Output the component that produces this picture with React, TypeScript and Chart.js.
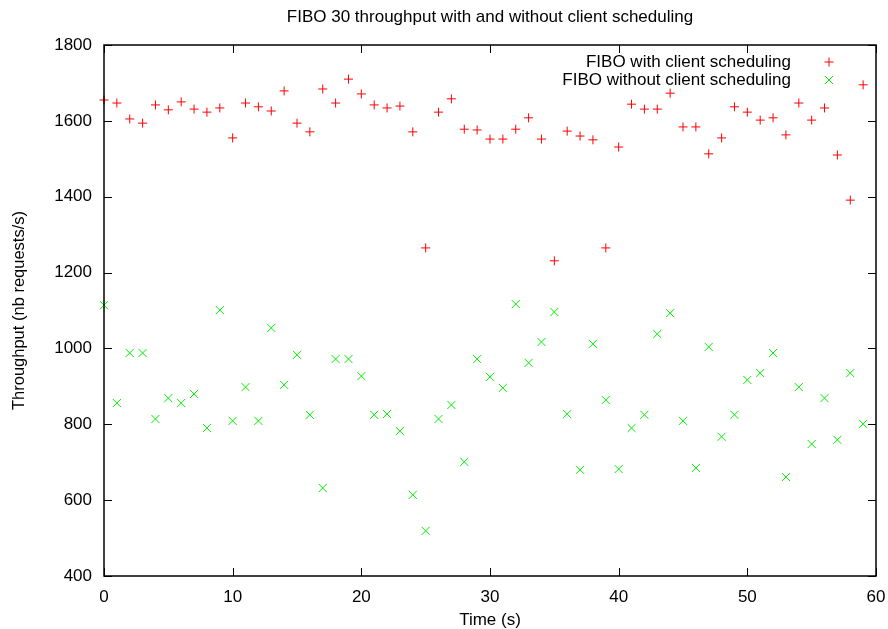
import React, { useEffect, useRef } from "react";
import { Chart, registerables } from "chart.js";

Chart.register(...registerables);

const TITLE = "FIBO 30 throughput with and without client scheduling";
const X_TITLE = "Time (s)";
const Y_TITLE = "Throughput (nb requests/s)";
const SERIES_NAMES = ["FIBO with client scheduling", "FIBO without client scheduling"];

const times = [
  0, 1, 2, 3, 4, 5, 6, 7, 8, 9, 10, 11, 12, 13, 14, 15, 16, 17, 18, 19,
  20, 21, 22, 23, 24, 25, 26, 27, 28, 29, 30, 31, 32, 33, 34, 35, 36, 37, 38, 39,
  40, 41, 42, 43, 44, 45, 46, 47, 48, 49, 50, 51, 52, 53, 54, 55, 56, 57, 58, 59,
];

const withScheduling = [
  1655, 1647, 1605, 1594, 1642, 1629, 1650, 1631, 1623, 1634,
  1555, 1647, 1637, 1626, 1679, 1594, 1571, 1684, 1647, 1710,
  1671, 1642, 1634, 1639, 1571, 1265, 1623, 1658, 1578, 1576,
  1552, 1552, 1578, 1608, 1552, 1231, 1573, 1560, 1550, 1265,
  1531, 1644, 1631, 1631, 1673, 1584, 1584, 1513, 1555, 1637,
  1623, 1602, 1608, 1563, 1647, 1602, 1634, 1510, 1391, 1695,
];

const withoutScheduling = [
  1114, 856, 988, 988, 814, 869, 856, 880, 790, 1101,
  809, 898, 809, 1054, 904, 983, 825, 632, 972, 972,
  927, 825, 827, 782, 614, 519, 814, 851, 701, 972,
  925, 896, 1117, 962, 1017, 1096, 827, 680, 1012, 864,
  682, 790, 825, 1038, 1093, 809, 685, 1004, 767, 825,
  917, 935, 988, 661, 898, 748, 869, 759, 935, 801,
];

const xTicks = [0, 10, 20, 30, 40, 50, 60];
const yTicks = [400, 600, 800, 1000, 1200, 1400, 1600, 1800];

const RED = "#ff0000";
const GREEN = "#00ee00";
const FONT = '"Liberation Sans", Arial, sans-serif';
const FS = 17;

const gnuplotFrame = {
  id: "gnuplotFrame",
  afterDraw(chart: any) {
    const ctx = chart.ctx as CanvasRenderingContext2D;
    const { left, right, top, bottom } = chart.chartArea;
    const xs = chart.scales.x;
    const ys = chart.scales.y;
    ctx.save();
    ctx.strokeStyle = "#000";
    ctx.lineWidth = 1;
    const tl = 8;
    ctx.beginPath();
    for (const v of xTicks) {
      const px = Math.round(xs.getPixelForValue(v)) + 0.5;
      ctx.moveTo(px, bottom);
      ctx.lineTo(px, bottom - tl);
      ctx.moveTo(px, top);
      ctx.lineTo(px, top + tl);
    }
    for (const v of yTicks) {
      const py = Math.round(ys.getPixelForValue(v)) + 0.5;
      ctx.moveTo(left, py);
      ctx.lineTo(left + tl, py);
      ctx.moveTo(right, py);
      ctx.lineTo(right - tl, py);
    }
    ctx.stroke();
    ctx.lineWidth = 1.5;
    ctx.strokeRect(left, top, right - left, bottom - top);

    ctx.fillStyle = "#000";
    ctx.font = `${FS}px ${FONT}`;
    ctx.textAlign = "center";
    ctx.textBaseline = "middle";
    ctx.fillText(TITLE, (left + right) / 2, 17);
    ctx.fillText(X_TITLE, (left + right) / 2, 620);
    ctx.save();
    ctx.translate(19, (top + bottom) / 2);
    ctx.rotate(-Math.PI / 2);
    ctx.font = `16.5px ${FONT}`;
    ctx.fillText(Y_TITLE, 0, 0);
    ctx.restore();

    ctx.textAlign = "right";
    const textRight = right - 85;
    const markX = right - 47;
    const rows = [top + 17, top + 35];
    ctx.fillText(SERIES_NAMES[0], textRight, rows[0]);
    ctx.fillText(SERIES_NAMES[1], textRight, rows[1]);
    ctx.lineWidth = 1;
    ctx.strokeStyle = RED;
    ctx.beginPath();
    ctx.moveTo(markX - 4.5, rows[0]);
    ctx.lineTo(markX + 4.5, rows[0]);
    ctx.moveTo(markX, rows[0] - 4.5);
    ctx.lineTo(markX, rows[0] + 4.5);
    ctx.stroke();
    ctx.strokeStyle = GREEN;
    ctx.beginPath();
    ctx.moveTo(markX - 4, rows[1] - 4);
    ctx.lineTo(markX + 4, rows[1] + 4);
    ctx.moveTo(markX - 4, rows[1] + 4);
    ctx.lineTo(markX + 4, rows[1] - 4);
    ctx.stroke();
    ctx.restore();
  },
};

export default function App() {
  const ref = useRef<HTMLCanvasElement | null>(null);
  useEffect(() => {
    if (!ref.current) return;
    const chart = new Chart(ref.current, {
      type: "scatter",
      data: {
        datasets: [
          {
            label: SERIES_NAMES[0],
            data: times.map((t, i) => ({ x: t, y: withScheduling[i] })),
            pointStyle: "cross",
            pointRadius: 4.5,
            pointBorderWidth: 1,
            borderColor: RED,
            backgroundColor: RED,
            showLine: false,
            clip: false,
          } as any,
          {
            label: SERIES_NAMES[1],
            data: times.map((t, i) => ({ x: t, y: withoutScheduling[i] })),
            pointStyle: "crossRot",
            pointRadius: 5.7,
            pointBorderWidth: 1,
            borderColor: GREEN,
            backgroundColor: GREEN,
            showLine: false,
            clip: false,
          } as any,
        ],
      },
      options: {
        animation: false,
        responsive: true,
        maintainAspectRatio: false,
        layout: { padding: { top: 45, right: 12, left: 0, bottom: 0 } },
        plugins: {
          legend: { display: false },
          title: { display: false },
          tooltip: { enabled: false },
        },
        scales: {
          x: {
            type: "linear",
            min: 0,
            max: 60,
            afterFit: (s: any) => {
              s.height = 53;
              s.paddingLeft = 0;
              s.paddingRight = 0;
            },
            afterBuildTicks: (s: any) => {
              s.ticks = xTicks.map((v) => ({ value: v }));
            },
            grid: { display: false },
            border: { display: false },
            ticks: {
              font: { family: FONT, size: FS },
              color: "#000",
              padding: 3,
              maxRotation: 0,
              callback: (v: any) => String(v),
            },
          },
          y: {
            type: "linear",
            min: 400,
            max: 1800,
            afterFit: (s: any) => {
              s.width = 104;
              s.paddingTop = 0;
              s.paddingBottom = 0;
            },
            afterBuildTicks: (s: any) => {
              s.ticks = yTicks.map((v) => ({ value: v }));
            },
            grid: { display: false },
            border: { display: false },
            ticks: {
              font: { family: FONT, size: FS },
              color: "#000",
              padding: 4,
              callback: (v: any) => String(v),
            },
          },
        },
      },
      plugins: [gnuplotFrame],
    });
    return () => chart.destroy();
  }, []);
  return (
    <div style={{ position: "absolute", left: 0, top: 0, width: 888, height: 629, background: "#fff" }}>
      <canvas ref={ref} />
    </div>
  );
}
